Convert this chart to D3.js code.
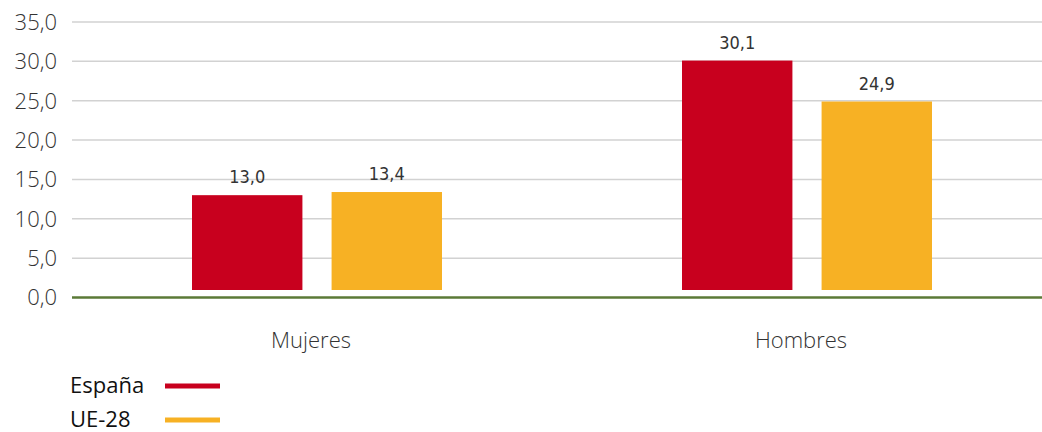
<!DOCTYPE html>
<html>
<head>
  <meta charset="utf-8">
  <script src="https://d3js.org/d3.v7.min.js"></script>
  <style>
    body { margin: 0; background: #fff; }
    text { font-family: "Open Sans", Lato, sans-serif; font-weight: 300; }
  </style>
</head>
<body>
  <svg width="1042" height="432"></svg>
  <script>
    // data
    var categories = ["Mujeres", "Hombres"];
    var seriesNames = ["España", "UE-28"];
    var espana = [13.0, 30.1];
    var ue28 = [13.4, 24.9];
    var yTicks = [0, 5, 10, 15, 20, 25, 30, 35];
    var colors = ["#c8001e", "#f7b124"];

    var svg = d3.select("svg"),
        margin = {top: 22, right: 0, bottom: 135, left: 72},
        width = 1052 - margin.left,
        height = 297.5 - margin.top;

    var groupW = 250;
    var x = d3.scaleBand().domain(categories).range([0, width]);
    var x1 = d3.scaleBand().domain(seriesNames).range([0, groupW]).paddingInner(0.209);
    var y = d3.scaleLinear().domain([0, 35]).range([height, 0]);
    var fmt = function(v) { return d3.format(".1f")(v).replace(".", ","); };

    var g = svg.append("g")
        .attr("transform", "translate(" + margin.left + "," + margin.top + ")");

    // grid
    g.selectAll(".grid").data(yTicks.slice(1)).enter().append("line")
        .attr("x1", 0).attr("x2", width)
        .attr("y1", function(d) { return y(d); })
        .attr("y2", function(d) { return y(d); })
        .attr("stroke", "#d2d2d2").attr("stroke-width", 1.5);

    // y labels
    g.selectAll(".ylab").data(yTicks).enter().append("text")
        .attr("x", -15)
        .attr("y", function(d) { return y(d); })
        .attr("dy", "0.36em")
        .attr("text-anchor", "end")
        .attr("font-size", 22)
        .attr("fill", "#333")
        .text(fmt);

    var rows = [];
    categories.forEach(function(c, i) {
      rows.push({cat: c, s: seriesNames[0], v: espana[i], col: colors[0]});
      rows.push({cat: c, s: seriesNames[1], v: ue28[i], col: colors[1]});
    });

    var barX = function(d) { return x(d.cat) + (x.bandwidth() - groupW) / 2 + x1(d.s); };
    var gap = 7.5; // bars float above the axis line in the original
    g.selectAll(".bar").data(rows).enter().append("rect")
        .attr("x", barX)
        .attr("width", x1.bandwidth())
        .attr("y", function(d) { return y(d.v); })
        .attr("height", function(d) { return y(0) - gap - y(d.v); })
        .attr("fill", function(d) { return d.col; });

    g.selectAll(".val").data(rows).enter().append("text")
        .attr("x", function(d) { return barX(d) + x1.bandwidth() / 2; })
        .attr("y", function(d) { return y(d.v) - 12; })
        .attr("text-anchor", "middle")
        .attr("font-size", 18)
        .attr("fill", "#333")
        .style("font-weight", 400)
        .style("font-family", "'Liberation Sans Narrow', 'DejaVu Sans Condensed', sans-serif")
        .text(function(d) { return fmt(d.v); });

    // axis line
    g.append("line")
        .attr("x1", 0).attr("x2", width)
        .attr("y1", y(0)).attr("y2", y(0))
        .attr("stroke", "#5b7a37").attr("stroke-width", 2.5);

    // category labels
    g.selectAll(".cat").data(categories).enter().append("text")
        .attr("x", function(d) { return x(d) + x.bandwidth() / 2 - 6; })
        .attr("y", y(0) + 50)
        .attr("text-anchor", "middle")
        .attr("font-size", 22)
        .attr("fill", "#333")
        .text(function(d) { return d; });

    // legend
    var leg = svg.selectAll(".leg").data(seriesNames).enter().append("g")
        .attr("transform", function(d, i) { return "translate(70," + (386 + i * 34) + ")"; });
    leg.append("text")
        .attr("y", 0).attr("dy", "0.32em")
        .attr("font-size", 22).attr("fill", "#111")
        .style("font-weight", 400)
        .text(function(d) { return d; });
    leg.append("line")
        .attr("x1", 95).attr("x2", 150)
        .attr("y1", 0).attr("y2", 0)
        .attr("stroke", function(d, i) { return colors[i]; })
        .attr("stroke-width", 5);
  </script>
</body>
</html>
